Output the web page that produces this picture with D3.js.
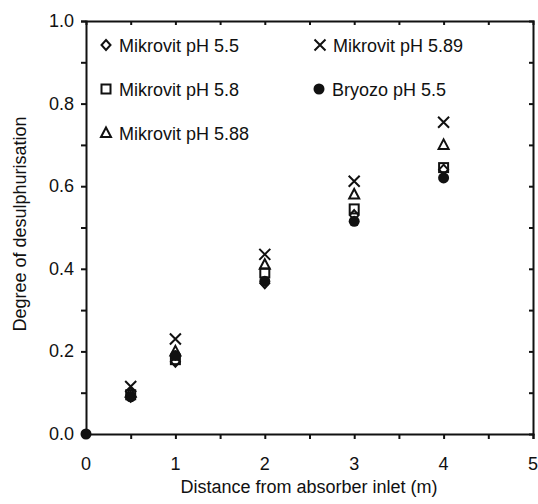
<!DOCTYPE html>
<html>
<head>
<meta charset="utf-8">
<script src="https://cdn.jsdelivr.net/npm/d3@7"></script>
<style>
  html, body { margin: 0; padding: 0; background: #fff; }
  svg text { font-family: "Liberation Sans", Arial, Helvetica, sans-serif; fill: #111; }
</style>
</head>
<body>
<svg id="chart" width="538" height="504"></svg>
<script>
// Distances along the absorber (m)
const distances = [0.5, 1, 2, 3, 4];
const bryozoDistances = [0, 0.5, 1, 2, 3, 4];

// Degree of desulphurisation for each packing / pH
const mikrovit55 = [0.090, 0.175, 0.365, 0.530, 0.640];
const mikrovit58 = [0.095, 0.180, 0.390, 0.545, 0.645];
const mikrovit588 = [0.100, 0.200, 0.410, 0.580, 0.700];
const mikrovit589 = [0.115, 0.230, 0.435, 0.612, 0.755];
const bryozo55 = [0.000, 0.090, 0.190, 0.370, 0.515, 0.620];

const xTicks = [0, 1, 2, 3, 4, 5];
const yTicks = [0.0, 0.2, 0.4, 0.6, 0.8, 1.0];

const series = [
  { name: "Mikrovit pH 5.5",  symbol: "diamond",  x: distances,       y: mikrovit55 },
  { name: "Mikrovit pH 5.8",  symbol: "square",   x: distances,       y: mikrovit58 },
  { name: "Mikrovit pH 5.88", symbol: "triangle", x: distances,       y: mikrovit588 },
  { name: "Mikrovit pH 5.89", symbol: "cross",    x: distances,       y: mikrovit589 },
  { name: "Bryozo pH 5.5",    symbol: "circle",   x: bryozoDistances, y: bryozo55 }
];

const svg = d3.select("#chart");
const x = d3.scaleLinear().domain([0, 5]).range([86, 533]);
const y = d3.scaleLinear().domain([0, 1]).range([434, 21]);

const ink = "#111";

// Marker drawing helper
function drawMarker(g, symbol, cx, cy) {
  if (symbol === "diamond") {
    g.append("path")
      .attr("d", `M${cx},${cy - 5}L${cx + 4.5},${cy}L${cx},${cy + 5}L${cx - 4.5},${cy}Z`)
      .attr("fill", "none").attr("stroke", ink).attr("stroke-width", 2);
  } else if (symbol === "square") {
    g.append("rect")
      .attr("x", cx - 4.5).attr("y", cy - 4.5).attr("width", 9).attr("height", 9)
      .attr("fill", "none").attr("stroke", ink).attr("stroke-width", 2);
  } else if (symbol === "triangle") {
    g.append("path")
      .attr("d", `M${cx},${cy - 5.5}L${cx + 5},${cy + 4}L${cx - 5},${cy + 4}Z`)
      .attr("fill", "none").attr("stroke", ink).attr("stroke-width", 2);
  } else if (symbol === "cross") {
    g.append("path")
      .attr("d", `M${cx - 5.5},${cy - 5.5}L${cx + 5.5},${cy + 5.5}M${cx + 5.5},${cy - 5.5}L${cx - 5.5},${cy + 5.5}`)
      .attr("fill", "none").attr("stroke", ink).attr("stroke-width", 2);
  } else if (symbol === "circle") {
    g.append("circle").attr("cx", cx).attr("cy", cy).attr("r", 5.5).attr("fill", ink);
  }
}

// Frame: bottom and left axes with outward ticks, top and right with inward ticks
const axisB = d3.axisBottom(x).tickValues(d3.range(0, 5.01, 0.5)).tickSize(5).tickFormat("");
svg.append("g").attr("transform", `translate(0,${y(0)})`).call(axisB);
const axisL = d3.axisLeft(y).tickValues(d3.range(0, 1.001, 0.1)).tickSize(5).tickFormat("");
svg.append("g").attr("transform", `translate(${x(0)},0)`).call(axisL);
const axisT = d3.axisTop(x).tickValues(d3.range(0.5, 5, 0.5)).tickSize(-4).tickFormat("");
svg.append("g").attr("transform", `translate(0,${y(1)})`).call(axisT);
const axisR = d3.axisRight(y).tickValues(d3.range(0.1, 1, 0.1)).tickSize(-4).tickFormat("");
svg.append("g").attr("transform", `translate(${x(5)},0)`).call(axisR);

svg.selectAll(".domain").attr("stroke", ink).attr("stroke-width", 2);
svg.selectAll(".tick line").attr("stroke", ink).attr("stroke-width", 2);

// Tick labels
svg.append("g").selectAll("text").data(xTicks).join("text")
  .attr("x", d => x(d)).attr("y", 470)
  .attr("text-anchor", "middle").attr("font-size", 18)
  .text(d => d);
svg.append("g").selectAll("text").data(yTicks).join("text")
  .attr("x", 74).attr("y", d => y(d) + 6)
  .attr("text-anchor", "end").attr("font-size", 18)
  .text(d => d.toFixed(1));

// Axis titles
svg.append("text").attr("x", 309).attr("y", 493)
  .attr("text-anchor", "middle").attr("font-size", 18)
  .text("Distance from absorber inlet (m)");
svg.append("text").attr("transform", "translate(26,224) rotate(-90)")
  .attr("text-anchor", "middle").attr("font-size", 18)
  .text("Degree of desulphurisation");

// Data points; filled circles drawn last
const plot = svg.append("g");
series.forEach(s => {
  s.y.forEach((v, i) => drawMarker(plot, s.symbol, x(s.x[i]), y(v)));
});

// Legend
const legendItems = [
  { s: series[0], mx: 106, ty: 45 },
  { s: series[1], mx: 106, ty: 89 },
  { s: series[2], mx: 106, ty: 133 },
  { s: series[3], mx: 320, ty: 45 },
  { s: series[4], mx: 319, ty: 89 }
];
const legend = svg.append("g");
legendItems.forEach(it => {
  drawMarker(legend, it.s.symbol, it.mx, it.ty);
  legend.append("text").attr("x", it.mx + 13).attr("y", it.ty + 6.5)
    .attr("font-size", 18).text(it.s.name);
});
</script>
</body>
</html>
